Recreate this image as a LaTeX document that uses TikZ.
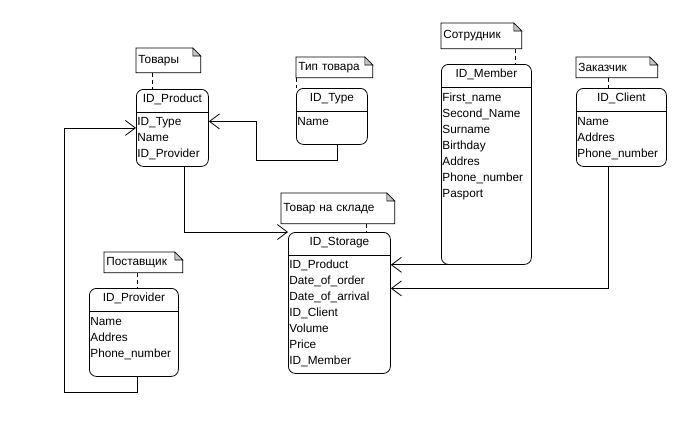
\documentclass[tikz,border=0pt]{standalone}
\usepackage{fontspec}
\setmainfont{Liberation Sans}
\usetikzlibrary{arrows.meta}

\tikzset{
        entity/.style={draw, rounded corners=7pt, inner sep=0pt, anchor=north west},
        title/.style={font=\fontsize{11.8}{16}\selectfont, inner sep=0pt},
        attrs/.style={font=\fontsize{11.8}{16}\selectfont, align=left, inner sep=0pt, anchor=north west},
        note/.style={font=\fontsize{11.8}{16}\selectfont, inner xsep=2pt, inner ysep=0pt, anchor=north west, align=left},
        link/.style={dash pattern=on 4pt off 3pt},
        fk/.style={-{Straight Barb[length=10pt,width=15pt]}}
}

\begin{document}
\begin{tikzpicture}[x=1pt, y=-1pt, line width=0.8pt]
        \useasboundingbox (0,0) rectangle (695,426);

        \node[entity, minimum width=72pt, minimum height=77pt] (product) at (136,89) {};
        \node[entity, minimum width=71pt, minimum height=56pt] (type) at (296,88) {};
        \node[entity, minimum width=90pt, minimum height=200pt] (member) at (441,64) {};
        \node[entity, minimum width=90pt, minimum height=78pt] (client) at (576,88) {};
        \node[entity, minimum width=102pt, minimum height=141pt] (storage) at (288,232) {};
        \node[entity, minimum width=89pt, minimum height=88pt] (provider) at (89,288) {};

        \foreach \e/\t in {product/ID\_Product, type/ID\_Type, member/ID\_Member,
                client/ID\_Client, storage/ID\_Storage, provider/ID\_Provider} {
                \node[title] (\e-t) at ([yshift=-10.5pt]\e.north) {\t};
                \draw ([yshift=-23pt]\e.north west) -- ([yshift=-23pt]\e.north east);
        }

        \node[attrs] (product-a) at ([xshift=1pt, yshift=-28pt]product.north west) {ID\_Type\\Name\\ID\_Provider};
        \node[attrs] (type-a) at ([xshift=1pt, yshift=-29pt]type.north west) {Name};
        \node[attrs] (member-a) at ([xshift=1pt, yshift=-29pt]member.north west)
                {First\_name\\Second\_Name\\Surname\\Birthday\\Addres\\Phone\_number\\Pasport};
        \node[attrs] (client-a) at ([xshift=1pt, yshift=-29pt]client.north west) {Name\\Addres\\Phone\_number};
        \node[attrs] (storage-a) at ([xshift=1pt, yshift=-28pt]storage.north west)
                {ID\_Product\\Date\_of\_order\\Date\_of\_arrival\\ID\_Client\\Volume\\Price\\ID\_Member};
        \node[attrs] (provider-a) at ([xshift=1pt, yshift=-29pt]provider.north west) {Name\\Addres\\Phone\_number};

        \node[note, text width=60pt, minimum height=24pt] (nproduct) at (136,48) {Товары};
        \node[note, text width=72pt, minimum height=20pt] (ntype) at (296,57) {Тип товара};
        \node[note, text width=76pt, minimum height=25pt] (nmember) at (441,23) {Сотрудник};
        \node[note, text width=77pt, minimum height=20pt] (nclient) at (576,57) {Заказчик};
        \node[note, text width=109pt, minimum height=30pt] (nstorage) at (281,193) {Товар на складе};
        \node[note, text width=74pt, minimum height=20pt] (nprovider) at (104,252) {Поставщик};

        \foreach \n in {nproduct, ntype, nmember, nclient, nstorage, nprovider} {
                \draw (\n.north west) -- ([xshift=-8pt]\n.north east) -- ([yshift=-8pt]\n.north east)
                        -- (\n.south east) -- (\n.south west) -- cycle;
                \filldraw[fill=gray!45, line width=0.6pt] ([xshift=-8pt]\n.north east) -- ([xshift=-8pt, yshift=-8pt]\n.north east)
                        -- ([yshift=-8pt]\n.north east) -- cycle;
        }

        \draw[link] ([xshift=-16pt]nproduct.south) -- ([xshift=-16pt]nproduct.south |- product.north);
        \draw[link] (ntype.south west) -- (ntype.south west |- type.north);
        \draw[link] ([xshift=34pt]nmember.south) -- ([xshift=34pt]nmember.south |- member.north);
        \draw[link] ([xshift=-8.5pt]nclient.south) -- ([xshift=-8.5pt]nclient.south |- client.north);
        \draw[link] ([xshift=28.5pt]nstorage.south) -- ([xshift=28.5pt]nstorage.south |- storage.north);
        \draw[link] ([xshift=-6pt]nprovider.south) -- ([xshift=-6pt]nprovider.south |- provider.north);

        \draw[fk] ([xshift=12pt]product.south) |- (storage.north west);
        \draw[fk] ([xshift=3.5pt]provider.south) -- ++(0,16) -- ++(-73,0) |- (product.west);
        \draw[fk] ([xshift=5.5pt]type.south) -- ++(0,16) -- ++(-81,0) |- ([yshift=6.5pt]product.east);
        \draw[fk] ([xshift=-14pt]member.south) -- (storage.east |- member.south);
        \draw[fk] ([xshift=-13pt]client.south) |- ([yshift=14.5pt]storage.east);
\end{tikzpicture}
\end{document}
